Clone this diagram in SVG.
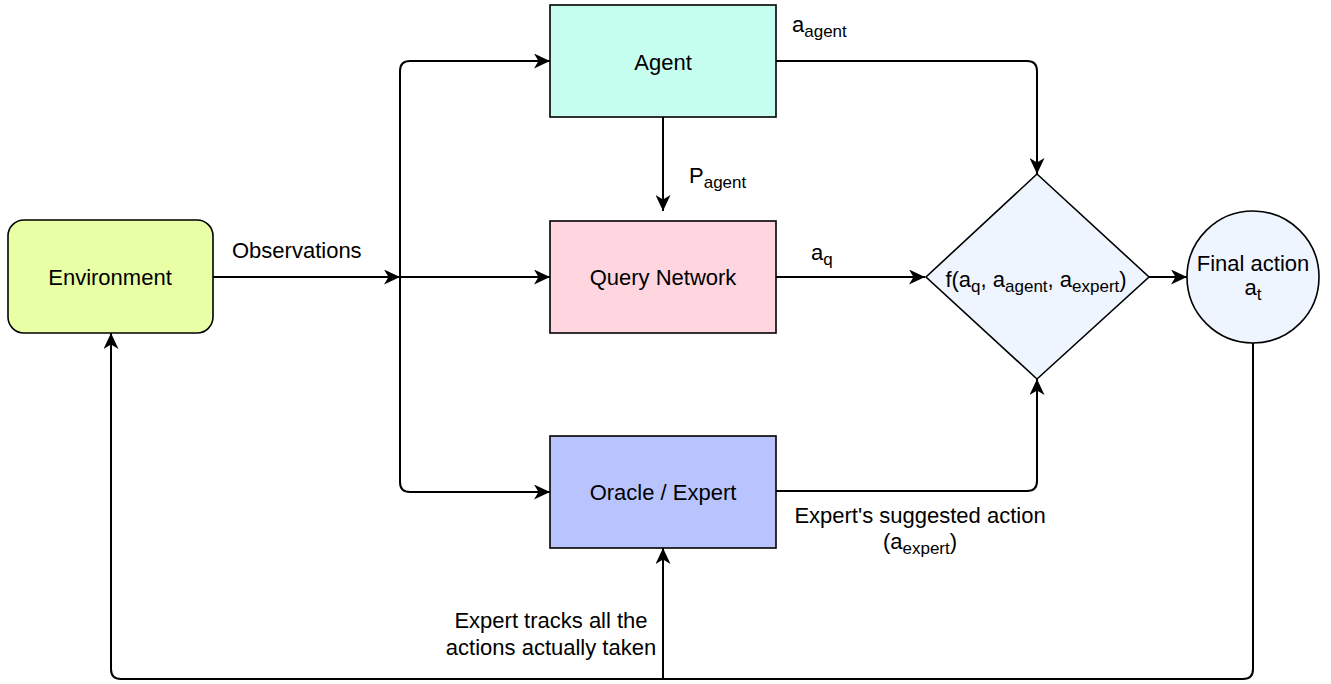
<svg xmlns="http://www.w3.org/2000/svg" width="1331" height="684" viewBox="0 0 1331 684">
  <style>
    .node { stroke: #000; stroke-width: 1.6; }
    .lbl { font-family: "Liberation Sans", Arial, sans-serif; font-size: 22px; fill: #000; }
    .mid { text-anchor: middle; }
    .sub { font-size: 17px; }
    .wire { fill: none; stroke: #000; stroke-width: 2; }
  </style>
  <defs>
    <marker id="arrow" markerUnits="userSpaceOnUse" markerWidth="17" markerHeight="15" refX="16" refY="7.5" orient="auto">
      <path d="M0,0 L16,7.5 L0,15 L4.5,7.5 Z" fill="#000"/>
    </marker>
  </defs>

  <rect width="1331" height="684" fill="#fff"/>

  <!-- connectors -->
  <g id="connectors">
    <path class="wire" d="M213,277 H400" marker-end="url(#arrow)"/>
    <path class="wire" d="M400,277 H550" marker-end="url(#arrow)"/>
    <path class="wire" d="M400,277 V71 Q400,61 410,61 H550" marker-end="url(#arrow)"/>
    <path class="wire" d="M400,277 V482 Q400,492 410,492 H550" marker-end="url(#arrow)"/>
    <path class="wire" d="M663,117 V211" marker-end="url(#arrow)"/>
    <path class="wire" d="M776,61 H1027 Q1037,61 1037,71 V174" marker-end="url(#arrow)"/>
    <path class="wire" d="M776,277 H925" marker-end="url(#arrow)"/>
    <path class="wire" d="M776,491 H1027 Q1037,491 1037,481 V379" marker-end="url(#arrow)"/>
    <path class="wire" d="M1149,277 H1187" marker-end="url(#arrow)"/>
    <path class="wire" d="M1253,343 V669 Q1253,679 1243,679 H121 Q111,679 111,669 V333" marker-end="url(#arrow)"/>
    <path class="wire" d="M663,679 V548" marker-end="url(#arrow)"/>

    <text class="lbl" x="792" y="32">a<tspan class="sub" dy="5">agent</tspan></text>
    <text class="lbl" x="689" y="183">P<tspan class="sub" dy="5">agent</tspan></text>
    <text class="lbl" x="811" y="260">a<tspan class="sub" dy="5">q</tspan></text>
    <text class="lbl" x="232" y="258">Observations</text>
    <text class="lbl mid" x="920" y="523">Expert's suggested action</text>
    <text class="lbl mid" x="920" y="549">(a<tspan class="sub" dy="5">expert</tspan><tspan dy="-5">)</tspan></text>
    <text class="lbl mid" x="551" y="628">Expert tracks all the</text>
    <text class="lbl mid" x="551" y="655">actions actually taken</text>
  </g>

  <g id="environment">
    <rect class="node" x="8" y="220" width="205" height="113" rx="16" fill="#E8FFA6"/>
    <text class="lbl mid" x="110" y="285">Environment</text>
  </g>

  <g id="agent">
    <rect class="node" x="550" y="5" width="226" height="112" fill="#C6FFF0"/>
    <text class="lbl mid" x="663" y="70">Agent</text>
  </g>

  <g id="query-network">
    <rect class="node" x="550" y="221" width="226" height="112" fill="#FFD6E0"/>
    <text class="lbl mid" x="663" y="285">Query Network</text>
  </g>

  <g id="oracle-expert">
    <rect class="node" x="550" y="436" width="226" height="112" fill="#B9C4FF"/>
    <text class="lbl mid" x="663" y="500">Oracle / Expert</text>
  </g>

  <g id="combiner">
    <path class="node" d="M1037,174 L1149,277 L1037,379 L926,277 Z" fill="#EEF5FF"/>
    <text class="lbl mid" x="1036" y="287">f(a<tspan class="sub" dy="5">q</tspan><tspan dy="-5">, a</tspan><tspan class="sub" dy="5">agent</tspan><tspan dy="-5">, a</tspan><tspan class="sub" dy="5">expert</tspan><tspan dy="-5">)</tspan></text>
  </g>

  <g id="final-action">
    <circle class="node" cx="1253" cy="277" r="66" fill="#EEF5FF"/>
    <text class="lbl mid" x="1253" y="271">Final action</text>
    <text class="lbl mid" x="1253" y="295">a<tspan class="sub" dy="5">t</tspan></text>
  </g>
</svg>
